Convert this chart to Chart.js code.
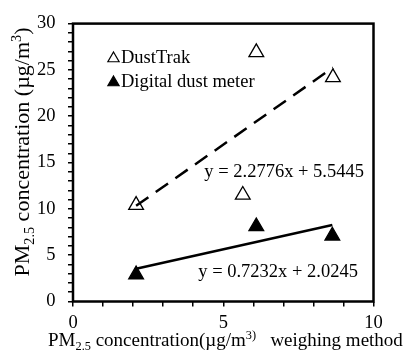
<!DOCTYPE html>
<html>
<head>
<meta charset="utf-8">
<script src="https://cdn.jsdelivr.net/npm/chart.js@4/dist/chart.umd.min.js"></script>
<style>
  html, body { margin: 0; padding: 0; background: #fff; }
  #wrap { width: 410px; height: 355px; }
</style>
</head>
<body>
<div id="wrap"><canvas id="c" width="410" height="355"></canvas></div>
<script>
// Measured PM2.5 (µg/m3): weighing method on x, instrument reading on y
const dustTrakX = [2.1, 5.65, 6.1, 8.65];
const dustTrakY = [10.4, 11.5, 26.9, 24.2];
const meterX = [2.1, 6.1, 8.63];
const meterY = [2.9, 8.1, 7.1];

// Linear fits: [slope, intercept]
const dustTrakFit = [2.2776, 5.5445];
const meterFit = [0.7232, 2.0245];

const seriesNames = ['DustTrak', 'Digital dust meter'];
const xTickLabels = [0, 5, 10];
const yTickLabels = [0, 5, 10, 15, 20, 25, 30];

const SERIF = '"Liberation Serif", "Times New Roman", serif';

function points(xs, ys) {
  return xs.map((x, i) => ({ x: x, y: ys[i] }));
}
function fitLine(xs, fit) {
  const lo = Math.min(...xs), hi = Math.max(...xs);
  return [lo, hi].map(x => ({ x: x, y: fit[0] * x + fit[1] }));
}
function fitText(fit) {
  return 'y = ' + fit[0] + 'x + ' + fit[1];
}

// Draw text made of normal / subscript / superscript runs
function richWidth(ctx, parts, size) {
  let w = 0;
  parts.forEach(p => {
    const s = p[1] ? size * 0.65 : size;
    ctx.font = s + 'px ' + SERIF;
    w += ctx.measureText(p[0]).width;
  });
  return w;
}
function drawRich(ctx, parts, x, y, size) {
  let cx = x;
  parts.forEach(p => {
    const s = p[1] ? size * 0.65 : size;
    ctx.font = s + 'px ' + SERIF;
    const dy = p[1] === 'sub' ? size * 0.22 : (p[1] === 'sup' ? -size * 0.36 : 0);
    ctx.fillText(p[0], cx, y + dy);
    cx += ctx.measureText(p[0]).width;
  });
}

function triangle(ctx, x, y, r, filled) {
  ctx.beginPath();
  for (let k = 0; k < 3; k++) {
    const a = k * 2 * Math.PI / 3;
    const px = x + Math.sin(a) * r, py = y - Math.cos(a) * r;
    if (k === 0) ctx.moveTo(px, py); else ctx.lineTo(px, py);
  }
  ctx.closePath();
  ctx.fillStyle = filled ? '#000' : '#fff';
  ctx.fill();
  ctx.lineWidth = 1.2;
  ctx.strokeStyle = '#000';
  ctx.stroke();
}

const decorations = {
  id: 'decorations',
  afterDraw(chart) {
    const ctx = chart.ctx;
    const a = chart.chartArea;
    const xs = chart.scales.x, ys = chart.scales.y;
    ctx.save();

    // plot frame
    ctx.lineWidth = 2.5;
    ctx.strokeStyle = '#000';
    ctx.strokeRect(a.left, a.top, a.right - a.left, a.bottom - a.top);

    ctx.fillStyle = '#000';
    ctx.textBaseline = 'alphabetic';
    ctx.textAlign = 'left';

    // legend
    const rows = [[seriesNames[0], false], [seriesNames[1], true]];
    rows.forEach((row, i) => {
      const cy = 57 + i * 24;
      triangle(ctx, 113.5, cy + 1.5, 6.5, row[1]);
      ctx.fillStyle = '#000';
      ctx.font = '18.5px ' + SERIF;
      ctx.fillText(row[0], 121, cy + 5.5);
    });

    // fit equations
    ctx.font = '18.5px ' + SERIF;
    ctx.fillText(fitText(dustTrakFit), xs.getPixelForValue(4.37), ys.getPixelForValue(13.4));
    ctx.fillText(fitText(meterFit), xs.getPixelForValue(4.17), ys.getPixelForValue(2.6));

    // axis titles
    const xTitle = [['PM', 0], ['2.5', 'sub'], [' concentration(µg/m', 0], ['3)', 'sup'], ['   weighing method', 0]];
    drawRich(ctx, xTitle, 48, 345.5, 19);

    const yT = 22;
    const yTitle = [['PM', 0], ['2.5', 'sub'], [' concentration (µg/m', 0], ['3', 'sup'], [')', 0]];
    const w = richWidth(ctx, yTitle, yT);
    ctx.translate(29, 152);
    ctx.rotate(-Math.PI / 2);
    drawRich(ctx, yTitle, -w / 2, 0, yT);

    ctx.restore();
  }
};

const tickFont = { family: SERIF, size: 18.5 };

new Chart(document.getElementById('c'), {
  type: 'scatter',
  data: {
    datasets: [
      {
        type: 'line', label: 'DustTrak fit', data: fitLine(dustTrakX, dustTrakFit),
        showLine: true, borderColor: '#000', borderWidth: 2.5, borderDash: [15, 9],
        pointRadius: 0, fill: false, order: 0
      },
      {
        type: 'line', label: 'Digital dust meter fit', data: fitLine(meterX, meterFit),
        showLine: true, borderColor: '#000', borderWidth: 2.5,
        pointRadius: 0, fill: false, order: 0
      },
      {
        label: seriesNames[0], data: points(dustTrakX, dustTrakY),
        pointStyle: 'triangle', pointRadius: 8.5, pointHoverRadius: 8.5,
        backgroundColor: '#fff', borderColor: '#000', borderWidth: 1.3, order: 1
      },
      {
        label: seriesNames[1], data: points(meterX, meterY),
        pointStyle: 'triangle', pointRadius: 8.5, pointHoverRadius: 8.5,
        backgroundColor: '#000', borderColor: '#000', borderWidth: 1.3, order: 1
      }
    ]
  },
  options: {
    responsive: false,
    devicePixelRatio: 1,
    animation: false,
    layout: { padding: { top: 20.5, right: 36.5, left: 0, bottom: 0 } },
    plugins: { legend: { display: false }, tooltip: { enabled: false } },
    scales: {
      x: {
        type: 'linear', min: 0, max: 10,
        afterFit(s) { s.height = 53.5; },
        border: { display: false },
        grid: { drawOnChartArea: false, drawTicks: true, tickLength: 5, color: '#000', lineWidth: 1.5 },
        ticks: {
          stepSize: 1, autoSkip: false, maxRotation: 0, color: '#000', font: tickFont, padding: 6,
          callback: v => (xTickLabels.includes(v) ? String(v) : '')
        }
      },
      y: {
        type: 'linear', min: 0, max: 30,
        afterFit(s) { s.width = 73; },
        border: { display: false },
        grid: { drawOnChartArea: false, drawTicks: true, tickLength: 5, color: '#000', lineWidth: 1.5 },
        ticks: {
          stepSize: 1, autoSkip: false, color: '#000', font: tickFont, padding: 12.5,
          callback: v => (yTickLabels.includes(v) ? String(v) : '')
        }
      }
    }
  },
  plugins: [decorations]
});
</script>
</body>
</html>
